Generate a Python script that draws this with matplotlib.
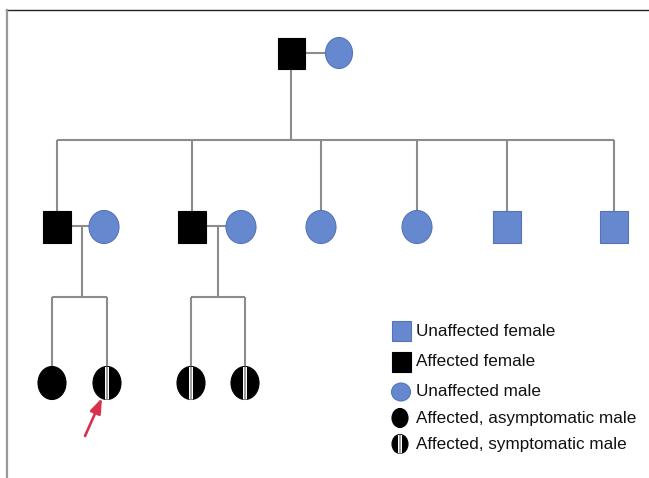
import matplotlib
matplotlib.use("Agg")
import matplotlib.pyplot as plt
from matplotlib.patches import Rectangle, Ellipse

plt.rcParams['font.family'] = ['Liberation Sans', 'DejaVu Sans']

# pedigree members: (status, x position in px)
gen1 = [("affected_female", 291), ("unaffected_male", 339)]
gen2 = [("affected_female", 57), ("unaffected_male", 104),
        ("affected_female", 192), ("unaffected_male", 241),
        ("unaffected_male", 321), ("unaffected_male", 417),
        ("unaffected_female", 507), ("unaffected_female", 614)]
gen3 = [("asymptomatic_male", 52), ("symptomatic_male", 107),
        ("symptomatic_male", 191), ("symptomatic_male", 245)]

# children of gen1 couple (indexes into gen2), and gen3 sibships
gen2_children = [0, 2, 4, 5, 6, 7]
gen3_families = [((0, 1), (0, 1)), ((2, 3), (2, 3))]

legend_labels = ["Unaffected female", "Affected female", "Unaffected male",
                 "Affected, asymptomatic male", "Affected, symptomatic male"]
legend_status = ["unaffected_female", "affected_female", "unaffected_male",
                 "asymptomatic_male", "symptomatic_male"]

BLUE = "#6688cf"
BLUE_EDGE = "#5474b9"
LINE = "#8c8c8c"

fig = plt.figure(figsize=(6.49, 4.78), dpi=100)
ax = fig.add_axes([0, 0, 1, 1])
ax.set_xlim(0, 649)
ax.set_ylim(478, 0)
ax.axis("off")


def draw_symbol(status, x, y, w, h):
    if status.endswith("female"):
        fc = "black" if status.startswith("affected") else BLUE
        ec = "black" if status.startswith("affected") else BLUE_EDGE
        ax.add_patch(Rectangle((x - w / 2, y - h / 2), w, h, fc=fc, ec=ec, lw=0.8, zorder=3))
    elif status == "unaffected_male":
        ax.add_patch(Ellipse((x, y), w, h, fc=BLUE, ec=BLUE_EDGE, lw=0.8, zorder=3))
    else:
        e = Ellipse((x, y), w, h, fc="black", ec="black", lw=0.8, zorder=3)
        ax.add_patch(e)
        if status == "symptomatic_male":
            band = Rectangle((x - 2.2, y - h / 2), 4.4, h, fc="white", ec="none", zorder=4)
            ax.add_patch(band)
            band.set_clip_path(e)
            ln, = ax.plot([x, x], [y - h / 2, y + h / 2], color=LINE, lw=1.2, zorder=5)
            ln.set_clip_path(e)


def hline(x0, x1, y):
    ax.plot([x0, x1], [y, y], color=LINE, lw=1.5, zorder=1, solid_capstyle="butt")


def vline(x, y0, y1):
    ax.plot([x, x], [y0, y1], color=LINE, lw=1.5, zorder=1, solid_capstyle="butt")


# generation 1
y1 = 53
hline(gen1[0][1], gen1[1][1], y1)
vline(gen1[0][1], y1, 140)
for status, x in gen1:
    draw_symbol(status, x, y1, 27, 31)

# generation 2
y2 = 227
xs = [gen2[i][1] for i in gen2_children]
hline(min(xs), max(xs), 140)
for x in xs:
    vline(x, 140, y2)
for i in range(0, 4, 2):
    hline(gen2[i][1], gen2[i + 1][1], y2 - 1)
for status, x in gen2:
    if status.endswith("female"):
        draw_symbol(status, x, y2, 28, 32)
    else:
        draw_symbol(status, x, y2, 30, 33)

# generation 3
y3 = 383
for parents, kids in gen3_families:
    px = (gen2[parents[0]][1] + gen2[parents[1]][1]) / 2 + 1
    kx = [gen3[k][1] for k in kids]
    vline(px, y2 - 1, 297)
    hline(min(kx), max(kx), 297)
    for x in kx:
        vline(x, 297, y3)
for status, x in gen3:
    draw_symbol(status, x, y3, 28, 33)

# proband arrow
ax.annotate("", xy=(102, 398), xytext=(85, 436),
            arrowprops=dict(arrowstyle="-|>,head_length=0.6,head_width=0.22",
                            color="#d8314d", lw=1.9,
                            mutation_scale=15, shrinkA=0, shrinkB=0))

# legend
legend_y = [331, 362, 392, 418, 444]
for status, label, ly in zip(legend_status, legend_labels, legend_y):
    if status.endswith("female"):
        draw_symbol(status, 401, ly, 19, 20)
    elif status == "unaffected_male":
        draw_symbol(status, 401, ly, 19, 18)
    else:
        draw_symbol(status, 400, ly, 16, 19)
    ax.text(416, ly, label, fontsize=12.3, va="center", ha="left", color="#111111")

# frame lines
ax.plot([6, 649], [10, 10], color="#222222", lw=1.0, zorder=1)
ax.plot([7, 7], [10, 478], color="#999999", lw=1.6, zorder=1)

fig.savefig("out.png", dpi=100)
